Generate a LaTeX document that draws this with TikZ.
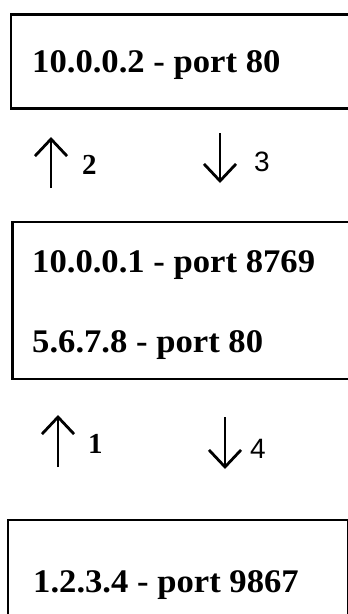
\documentclass[tikz,border=0pt]{standalone}
\usepackage{fontspec}
\setmainfont{Liberation Serif}
\newfontfamily\ipfont[FakeStretch=1.05]{Liberation Serif}
\newfontfamily\lsans{Liberation Sans}
\usetikzlibrary{arrows.meta}
\begin{document}
\begin{tikzpicture}[x=1pt,y=-1pt,
  box/.style={draw=black, line width=2.8pt, anchor=north west, inner sep=0pt},
  iptext/.style={anchor=base west, inner sep=0pt, font=\ipfont\fontsize{33}{36}\selectfont\bfseries},
  numlab/.style={anchor=base west, inner sep=0pt, font=\fontsize{29}{31}\selectfont\bfseries},
  numlabs/.style={anchor=base west, inner sep=0pt, font=\lsans\fontsize{28}{30}\selectfont},
  arr/.style={line width=2.8pt, -{Straight Barb[length=17pt,width=32pt,line width=2.8pt]}}]
\useasboundingbox (0,0) rectangle (348,614);
\clip (0,0) rectangle (348,614);
\fill[white] (0,0) rectangle (348,614);
% boxes
\node[box, minimum width=360pt, minimum height=94pt] (b1) at (9.5,13) {};
\node[box, minimum width=360pt, minimum height=157pt] (b2) at (11,220.5) {};
\node[box, minimum width=340pt, minimum height=130pt] (b3) at (6.5,518.5) {};
% texts
\node[iptext] (t1) at (32,72) {10.0.0.2 - port 80};
\node[iptext] (t2) at (32,272) {10.0.0.1 - port 8769};
\node[iptext] (t3) at (32,352) {5.6.7.8 - port 80};
\node[iptext] (t4) at (33,592) {1.2.3.4 - port 9867};
% arrows
\coordinate (a2s) at (51,188);
\coordinate (a2e) at (51,137);
\coordinate (a3s) at (220,133);
\coordinate (a3e) at (220,183);
\coordinate (a1s) at (58,467);
\coordinate (a1e) at (58,415);
\coordinate (a4s) at (225,417);
\coordinate (a4e) at (225,469);
\draw[arr] (a2s) -- (a2e);
\draw[arr] (a3s) -- (a3e);
\draw[arr] (a1s) -- (a1e);
\draw[arr] (a4s) -- (a4e);
\node[numlab] (l2) at (82,174) {2};
\node[numlabs] (l3) at (254,171) {3};
\node[numlab] (l1) at (88,453) {1};
\node[numlabs] (l4) at (250,458) {4};
\end{tikzpicture}
\end{document}
